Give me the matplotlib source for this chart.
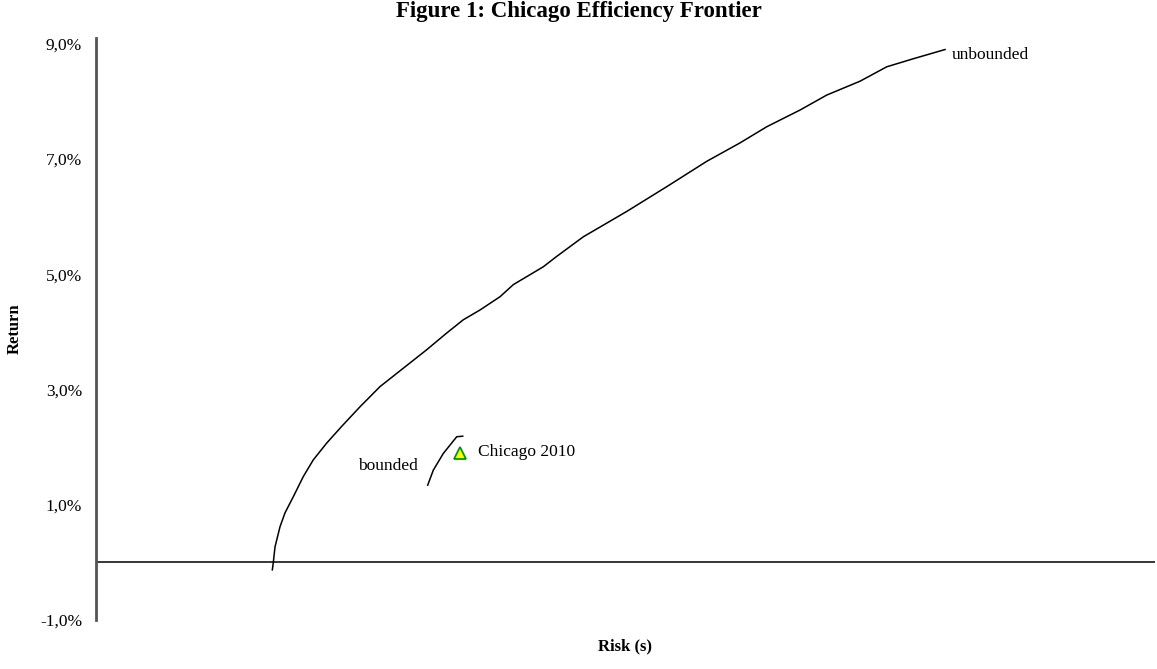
import matplotlib
matplotlib.use("Agg")
import matplotlib.pyplot as plt
from matplotlib.ticker import FixedLocator, FuncFormatter

# Data (risk in %, return in %)
unbounded_risk = [2.997, 3.014, 3.043, 3.128, 3.213, 3.354, 3.524, 3.694, 3.921, 4.176,
                  4.487, 4.827, 5.224, 5.621, 5.961, 6.243, 6.527, 6.867, 7.093, 7.603,
                  7.831, 8.283, 9.021, 9.701, 10.381, 10.947, 11.401, 11.967, 12.421,
                  12.986, 13.440, 13.892, 14.431]
unbounded_ret = [-0.13, 0.00, 0.27, 0.62, 0.86, 1.14, 1.49, 1.78, 2.07, 2.36,
                 2.70, 3.05, 3.37, 3.69, 3.98, 4.21, 4.38, 4.61, 4.82, 5.13,
                 5.31, 5.65, 6.09, 6.52, 6.96, 7.28, 7.56, 7.85, 8.11,
                 8.35, 8.60, 8.74, 8.90]
bounded_risk = [5.638, 5.733, 5.903, 6.131, 6.233]
bounded_ret = [1.34, 1.60, 1.89, 2.18, 2.19]
chicago_risk = [6.187]
chicago_ret = [1.89]
y_ticks = [-1.0, 1.0, 3.0, 5.0, 7.0, 9.0]

plt.rcParams['font.family'] = ['Liberation Serif', 'DejaVu Serif']

fig = plt.figure(figsize=(11.57, 6.69), dpi=100)
ax = fig.add_axes([96/1157, 1-620/669, (1155-96)/1157, (620-38)/669])

ax.plot(unbounded_risk, unbounded_ret, color='black', lw=1.1)
ax.plot(bounded_risk, bounded_ret, color='black', lw=1.1)
ax.plot(chicago_risk, chicago_ret, linestyle='none', marker='^', markersize=8,
        markerfacecolor='#FFFF00', markeredgecolor='#009900', markeredgewidth=1.3)

ax.axhline(0, color='black', lw=1.1)

ax.text(unbounded_risk[-1] + 0.12, unbounded_ret[-1] - 0.1, 'unbounded',
        ha='left', va='center', fontsize=12.5)
ax.text(5.47, 1.67, 'bounded', ha='right', va='center', fontsize=12.5)
ax.text(chicago_risk[0] + 0.3, chicago_ret[0] + 0.02, 'Chicago 2010',
        ha='left', va='center', fontsize=12.5)

ax.set_xlim(0, 18)
ax.set_ylim(-1, 9.1)
ax.yaxis.set_major_locator(FixedLocator(y_ticks))
ax.yaxis.set_major_formatter(FuncFormatter(lambda v, p: f"{v:.1f}%".replace('.', ',')))
ax.set_xticks([])
ax.tick_params(axis='y', length=0, pad=10, labelsize=12.5)

for s in ['top', 'right', 'bottom']:
    ax.spines[s].set_visible(False)
ax.spines['left'].set_color('#555555')
ax.spines['left'].set_linewidth(2)

ax.set_xlabel('Risk (s)', fontweight='bold', fontsize=12)
ax.xaxis.set_label_coords(0.5, -18/582)
ax.set_ylabel('Return', fontweight='bold', fontsize=12)
ax.yaxis.set_label_coords(-73/1059, 0.5)
fig.text(0.5, 1 - 11/669, 'Figure 1: Chicago Efficiency Frontier', ha='center', va='center',
         fontweight='bold', fontsize=16.5)

fig.savefig('out.png', dpi=100)
